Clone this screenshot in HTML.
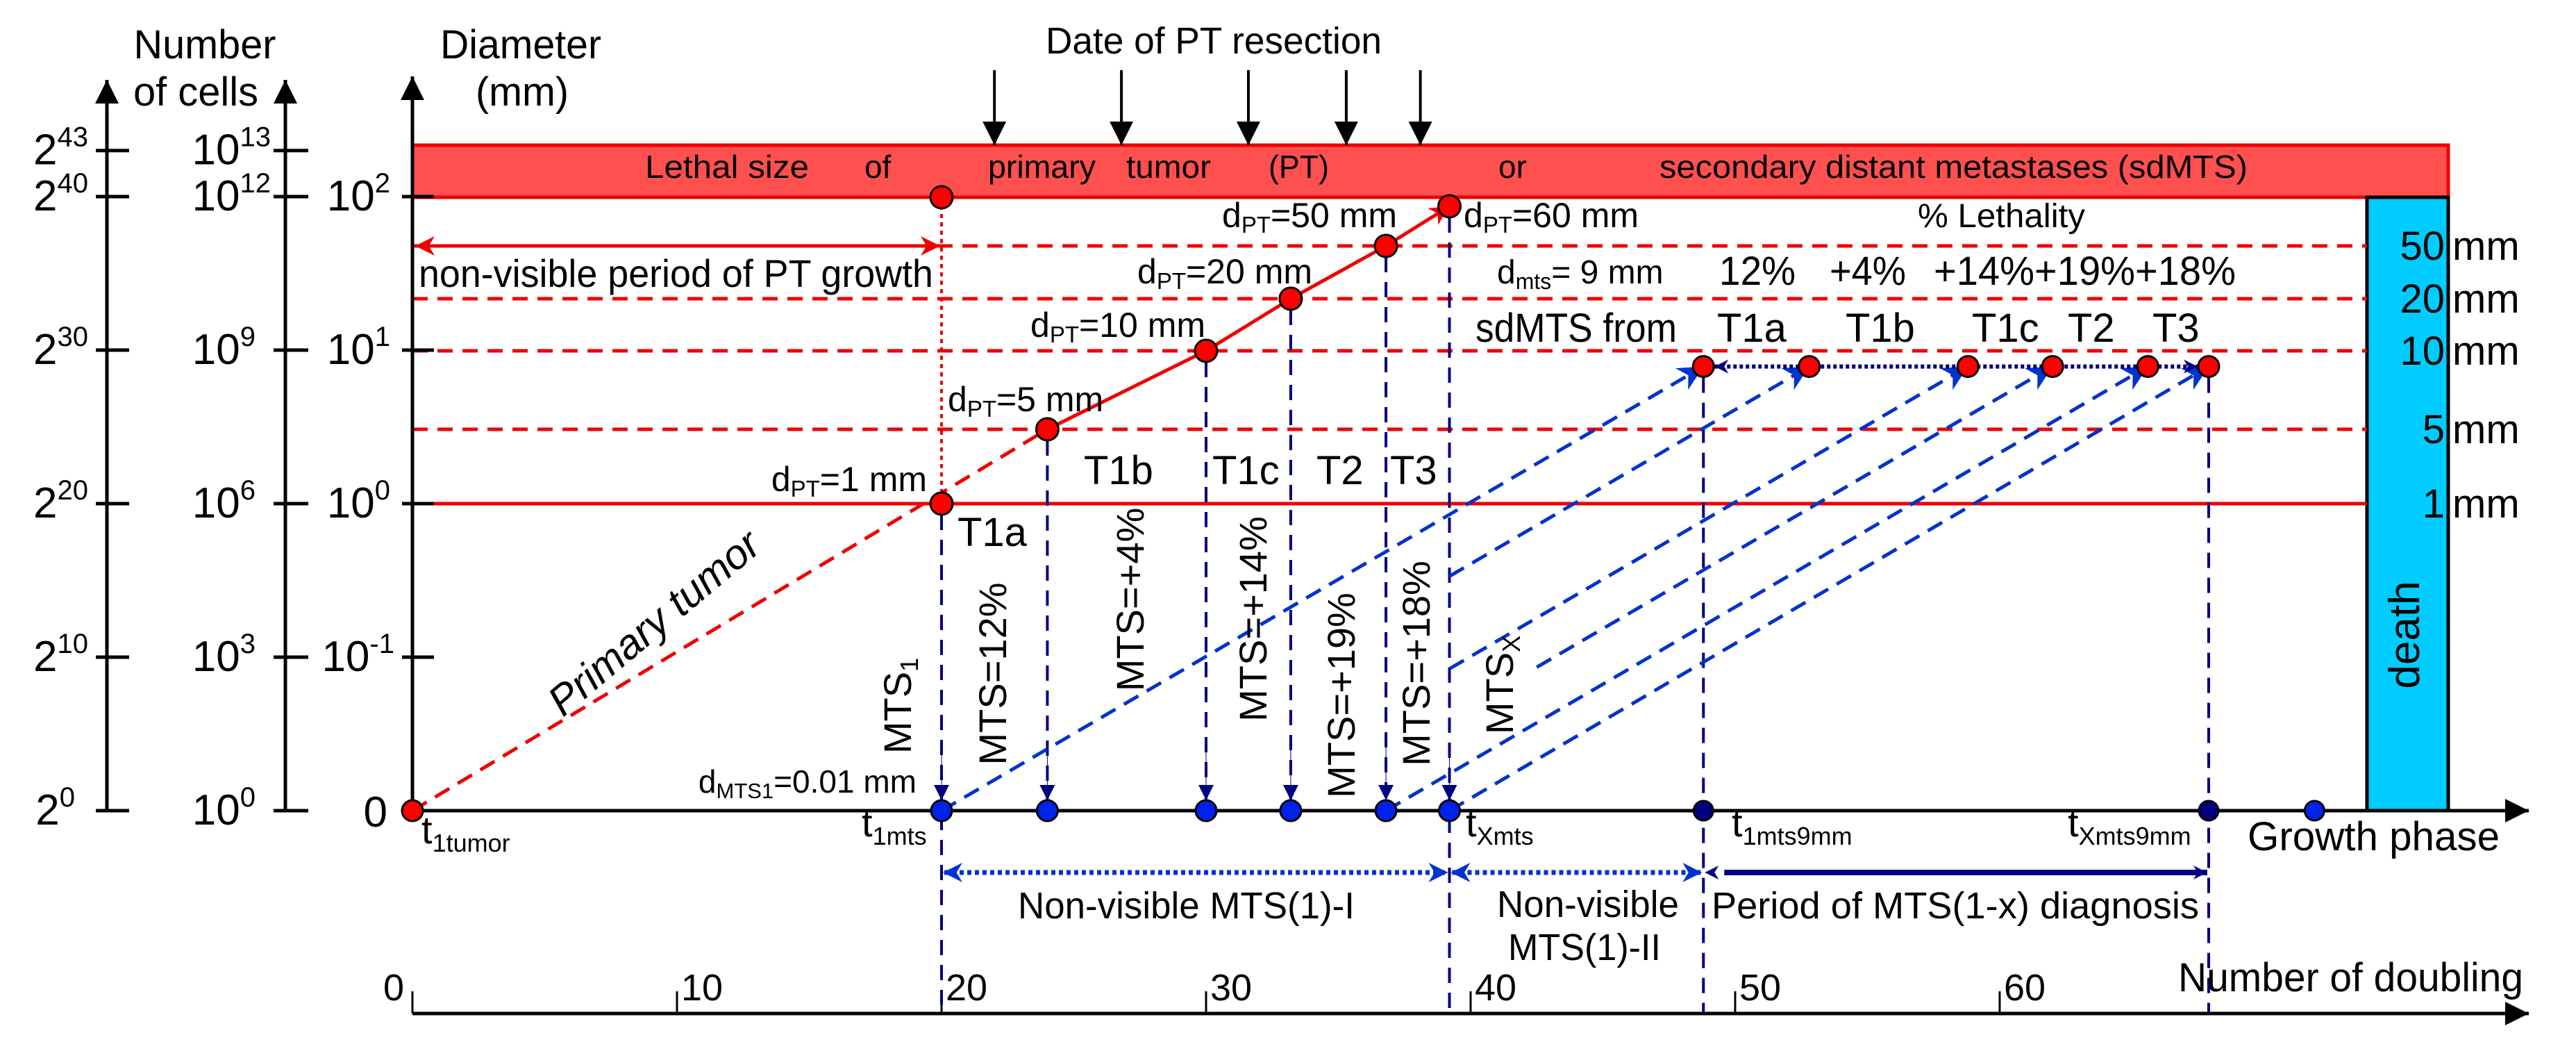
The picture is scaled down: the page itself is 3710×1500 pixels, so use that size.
<!DOCTYPE html>
<html><head><meta charset="utf-8"><style>
html,body{margin:0;padding:0;background:#fff;}
svg{display:block;font-family:"Liberation Sans",Arial,sans-serif;}
</style></head><body>
<svg id="chart" width="3710" height="1500" viewBox="0 0 3710 1500" xmlns="http://www.w3.org/2000/svg">
<defs>
<marker id="ablack" viewBox="0 0 10 10" refX="10" refY="5" markerWidth="20" markerHeight="26" markerUnits="userSpaceOnUse" orient="auto"><path d="M0,0 L10,5 L0,10 z" fill="#000"/></marker>
<marker id="anavy" viewBox="0 0 10 10" refX="10" refY="5" markerWidth="40" markerHeight="20" markerUnits="userSpaceOnUse" orient="auto"><path d="M0,0 L10,5 L0,10 L3,5 z" fill="#000080"/></marker>
<marker id="anavyv" viewBox="0 0 10 10" refX="10" refY="5" markerWidth="42" markerHeight="22" markerUnits="userSpaceOnUse" orient="auto"><path d="M0,0 L10,5 L0,10 z" fill="#000080"/></marker>
<marker id="ablue" viewBox="0 0 10 10" refX="10" refY="5" markerWidth="60" markerHeight="36" markerUnits="userSpaceOnUse" orient="auto"><path d="M0,0 L10,5 L0,10 L3,5 z" fill="#0033cc"/></marker>
<marker id="ablue2" viewBox="0 0 10 10" refX="10" refY="5" markerWidth="36" markerHeight="28" markerUnits="userSpaceOnUse" orient="auto"><path d="M0,0 L10,5 L0,10 L3,5 z" fill="#0033cc"/></marker>
<marker id="ared" viewBox="0 0 10 10" refX="10" refY="5" markerWidth="44" markerHeight="28" markerUnits="userSpaceOnUse" orient="auto"><path d="M0,0 L10,5 L0,10 L3,5 z" fill="#ee0000"/></marker>
<marker id="aredstart" viewBox="0 0 10 10" refX="0" refY="5" markerWidth="44" markerHeight="28" markerUnits="userSpaceOnUse" orient="auto"><path d="M10,0 L0,5 L10,10 L7,5 z" fill="#ee0000"/></marker>
<marker id="ablacklarge" viewBox="0 0 10 10" refX="10" refY="5" markerWidth="42" markerHeight="34" markerUnits="userSpaceOnUse" orient="auto"><path d="M0,0 L10,5 L0,10 z" fill="#000"/></marker>
</defs>

<text x="295" y="84" font-size="58" text-anchor="middle" textLength="205" lengthAdjust="spacingAndGlyphs">Number</text>
<text x="282" y="152" font-size="58" text-anchor="middle" textLength="180" lengthAdjust="spacingAndGlyphs">of cells</text>
<text x="634" y="84" font-size="58" textLength="232" lengthAdjust="spacingAndGlyphs">Diameter</text>
<text x="752" y="152" font-size="58" text-anchor="middle" textLength="134" lengthAdjust="spacingAndGlyphs">(mm)</text>
<text x="1506" y="77" font-size="54" textLength="484" lengthAdjust="spacingAndGlyphs">Date of PT resection</text>

<rect x="594" y="209" width="2932" height="75" fill="#ff5050" stroke="#ee0000" stroke-width="5"/>
<rect x="3409" y="284" width="117" height="883" fill="#00ccff" stroke="#000" stroke-width="5"/>
<text transform="translate(3484,914) rotate(-90)" font-size="62" text-anchor="middle">death</text>

<g font-size="46">
<text x="929" y="256" textLength="236" lengthAdjust="spacingAndGlyphs">Lethal size</text>
<text x="1245" y="256">of</text>
<text x="1423" y="256" textLength="155" lengthAdjust="spacingAndGlyphs">primary</text>
<text x="1622" y="256" textLength="122" lengthAdjust="spacingAndGlyphs">tumor</text>
<text x="1827" y="256" textLength="87" lengthAdjust="spacingAndGlyphs">(PT)</text>
<text x="2158" y="256">or</text>
<text x="2390" y="256" textLength="847" lengthAdjust="spacingAndGlyphs">secondary distant metastases (sdMTS)</text>
</g>

<g id="gridlines"></g>
<g id="axes"></g>
<g id="marks"></g>

<text x="603" y="413" font-size="56" textLength="741" lengthAdjust="spacingAndGlyphs">non-visible period of PT growth</text>
<text x="2762" y="327" font-size="48" textLength="241" lengthAdjust="spacingAndGlyphs">% Lethality</text>
<text x="2156" y="408" font-size="48">d<tspan font-size="32" dy="8">mts</tspan><tspan dy="-8">= 9 mm</tspan></text>
<g font-size="58">
<text x="2476" y="410" textLength="110" lengthAdjust="spacingAndGlyphs">12%</text>
<text x="2635" y="410" textLength="110" lengthAdjust="spacingAndGlyphs">+4%</text>
<text x="2785" y="410" textLength="435" lengthAdjust="spacingAndGlyphs">+14%+19%+18%</text>
</g>
<text x="2125" y="492" font-size="58" textLength="290" lengthAdjust="spacingAndGlyphs">sdMTS from</text>
<g font-size="58">
<text x="2473" y="492">T1a</text><text x="2658" y="492">T1b</text><text x="2840" y="492">T1c</text><text x="2978" y="492">T2</text><text x="3100" y="492">T3</text>
</g>
<g font-size="58">
<text x="1379" y="786">T1a</text><text x="1561" y="697">T1b</text><text x="1746" y="697">T1c</text><text x="1896" y="697">T2</text><text x="2002" y="697">T3</text>
</g>
<text transform="translate(955,912) rotate(-40)" font-size="60" font-style="italic" text-anchor="middle">Primary tumor</text>
<text x="1320" y="1141" font-size="46" text-anchor="end">d<tspan font-size="31" dy="8">MTS1</tspan><tspan dy="-8">=0.01 mm</tspan></text>

<g font-size="56" text-anchor="middle">
<text transform="translate(1312,1016) rotate(-90)">MTS<tspan font-size="36" dy="10">1</tspan></text>
<text transform="translate(1449,970) rotate(-90)">MTS=12%</text>
<text transform="translate(1647,863) rotate(-90)">MTS=+4%</text>
<text transform="translate(1824,891) rotate(-90)">MTS=+14%</text>
<text transform="translate(1951,1001) rotate(-90)">MTS=+19%</text>
<text transform="translate(2059,955) rotate(-90)">MTS=+18%</text>
<text transform="translate(2179,986) rotate(-90)">MTS<tspan font-size="36" dy="10">X</tspan></text>
</g>

<g font-size="56">
<text x="607" y="1214">t<tspan font-size="36" dy="12">1tumor</tspan></text>
<text x="1241" y="1204">t<tspan font-size="36" dy="12">1mts</tspan></text>
<text x="2111" y="1204">t<tspan font-size="36" dy="12">Xmts</tspan></text>
<text x="2494" y="1204">t<tspan font-size="36" dy="12">1mts9mm</tspan></text>
<text x="2978" y="1204">t<tspan font-size="36" dy="12">Xmts9mm</tspan></text>
</g>
<text x="3237" y="1224" font-size="58" textLength="363" lengthAdjust="spacingAndGlyphs">Growth phase</text>
<text x="3137" y="1427" font-size="58" textLength="497" lengthAdjust="spacingAndGlyphs">Number of doubling</text>

<g font-size="54">
<text x="1466" y="1322" textLength="485" lengthAdjust="spacingAndGlyphs">Non-visible MTS(1)-I</text>
<text x="2156" y="1320" textLength="262" lengthAdjust="spacingAndGlyphs">Non-visible</text>
<text x="2172" y="1382" textLength="220" lengthAdjust="spacingAndGlyphs">MTS(1)-II</text>
<text x="2465" y="1322" textLength="702" lengthAdjust="spacingAndGlyphs">Period of MTS(1-x) diagnosis</text>
</g>
</svg>

<script>
// ---- data ----
var ptMm = [1, 5, 10, 20, 50, 60];
var ptDoubling = [20, 24, 30, 33.2, 36.8, 39.2];
var ptLabels = ["dPT=1 mm","dPT=5 mm","dPT=10 mm","dPT=20 mm","dPT=50 mm","dPT=60 mm"];
var mtsStartDoubling = [20, 24, 30, 33.2, 36.8, 39.2];
var mtsEndDoubling = [48.8, 52.8, 58.8, 62.0, 65.6, 67.9];
var mtsVisibleFrom = [20, 39.2, 39.2, 42.5, 36.8, 39.2];
var sdMtsMm = 9;
var mmLines = [50, 20, 10, 5];
var mmSideLabels = ["50","20","10","5","1"];
var mmSideValues = [50, 20, 10, 5, 1];
var doublingTicks = [0, 10, 20, 30, 40, 50, 60];
var resectionDoubling = [22, 26.8, 31.6, 35.3, 38.1];
var extraDotsDoubling = [48.8, 67.9, 71.9];
var cellsPow2 = ["43","40","30","20","10","0"];
var cellsPow10 = ["13","12","9","6","3","0"];
var cellsLevels = [43, 40, 30, 20, 10, 0];
var diamPow = ["2","1","0","-1"];
var diamLevels = [2, 1, 0, -1];

// ---- axis functions ----
function xD(d){ return 594 + 38.1*d; }
function yLevel(l){ return 1167 - 22.1*l; }
var mmAnchorV = [0.01, 1, 5, 10, 20, 50, 100];
var mmAnchorY = [1167, 725, 618, 505, 430, 354, 284];
function yMm(mm){
  for (var i=1;i<mmAnchorV.length;i++){
    if (mm<=mmAnchorV[i]){
      var a=mmAnchorV[i-1], b=mmAnchorV[i];
      var t=(mm-a)/(b-a);
      return mmAnchorY[i-1]+t*(mmAnchorY[i]-mmAnchorY[i-1]);
    }
  }
  return mmAnchorY[mmAnchorY.length-1] - (mm-100)*0.7;
}
function yDiamPow(p){ return 725 - 221*p; }

var NS="http://www.w3.org/2000/svg";
function mk(parent, tag, attrs, txt){
  var el=document.createElementNS(NS,tag);
  for (var k in attrs) el.setAttribute(k, attrs[k]);
  if (txt!==undefined) el.textContent=txt;
  parent.appendChild(el); return el;
}
function tsp(parent, txt, size, dy){
  var el=document.createElementNS(NS,'tspan');
  if (size) el.setAttribute('font-size', size);
  if (dy) el.setAttribute('dy', dy);
  el.textContent=txt; parent.appendChild(el); return el;
}
var G=document.getElementById('gridlines'), A=document.getElementById('axes'), M=document.getElementById('marks');
var e, i;

for (i=0;i<mmLines.length;i++){
  e=mk(G,'line',{x1:594,x2:3409,y1:yMm(mmLines[i]),y2:yMm(mmLines[i]),stroke:'#ee0000','stroke-width':5,'stroke-dasharray':'22 14'});
  
  
}
e=mk(G,'line',{x1:594,x2:3409,y1:yMm(1),y2:yMm(1),stroke:'#ee0000','stroke-width':5});


for (i=0;i<mmSideLabels.length;i++){
  var yy=yMm(mmSideValues[i])+20;
  e=mk(G,'text',{x:3521,y:yy,'font-size':58,'text-anchor':'end'},mmSideLabels[i]);
  
  
  e=mk(G,'text',{x:3532,y:yy,'font-size':58},'mm');
  
  
}

e=mk(A,'line',{x1:154,x2:154,y1:1167,y2:115,stroke:'#000','stroke-width':5,'marker-end':'url(#ablacklarge)'});


e=mk(A,'line',{x1:411,x2:411,y1:1167,y2:115,stroke:'#000','stroke-width':5,'marker-end':'url(#ablacklarge)'});


e=mk(A,'line',{x1:594,x2:594,y1:1167,y2:110,stroke:'#000','stroke-width':5,'marker-end':'url(#ablacklarge)'});


for (i=0;i<cellsLevels.length;i++){
  var y=yLevel(cellsLevels[i]);
  e=mk(A,'line',{x1:138,x2:186,y1:y,y2:y,stroke:'#000','stroke-width':5});
  
  
  e=mk(A,'line',{x1:394,x2:444,y1:y,y2:y,stroke:'#000','stroke-width':5});
  
  
  e=mk(A,'text',{x:cellsPow2[i].length>1?127:108,y:y+20,'font-size':62,'text-anchor':'end'});
  
  
  tsp(e,'2'); tsp(e,cellsPow2[i],40,-26);
  e=mk(A,'text',{x:cellsPow10[i].length>1?390:368,y:y+20,'font-size':62,'text-anchor':'end'});
  
  
  tsp(e,'10'); tsp(e,cellsPow10[i],40,-26);
}
for (i=0;i<diamLevels.length;i++){
  var y2=yDiamPow(diamLevels[i]);
  e=mk(A,'line',{x1:579,x2:625,y1:y2,y2:y2,stroke:'#000','stroke-width':5});
  
  
  e=mk(A,'text',{x:diamLevels[i]<0?568:562,y:y2+20,'font-size':62,'text-anchor':'end'});
  
  
  tsp(e,'10'); tsp(e,diamPow[i],40,-26);
}
e=mk(A,'text',{x:558,y:1190,'font-size':62,'text-anchor':'end'},'0');


e=mk(A,'line',{x1:594,x2:3642,y1:1167,y2:1167,stroke:'#000','stroke-width':5,'marker-end':'url(#ablacklarge)'});


e=mk(A,'line',{x1:594,x2:3642,y1:1459,y2:1459,stroke:'#000','stroke-width':5,'marker-end':'url(#ablacklarge)'});


for (i=0;i<doublingTicks.length;i++){
  var x=xD(doublingTicks[i]);
  e=mk(A,'line',{x1:x,x2:x,y1:1459,y2:1427,stroke:'#000','stroke-width':3});
  
  
  e=mk(A,'text',{x:doublingTicks[i]===0?x-42:x+6,y:1440,'font-size':54},String(doublingTicks[i]));
  
  
}

for (i=0;i<resectionDoubling.length;i++){
  var rx=xD(resectionDoubling[i]);
  e=mk(M,'line',{x1:rx,x2:rx,y1:101,y2:209,stroke:'#000','stroke-width':4,'marker-end':'url(#ablacklarge)'});
  
  
}

e=mk(M,'line',{x1:598,x2:xD(20)-2,y1:354,y2:354,stroke:'#ee0000','stroke-width':5,'marker-start':'url(#aredstart)','marker-end':'url(#ared)'});


e=mk(M,'line',{x1:xD(20),x2:xD(20),y1:284,y2:725,stroke:'#ee0000','stroke-width':4,'stroke-dasharray':'6 6'});



var vEnds=[1459,1167,1167,1167,1167,1459];
for (i=0;i<ptDoubling.length;i++){
  var vx=xD(ptDoubling[i]);
  e=mk(M,'line',{x1:vx,x2:vx,y1:(i===ptDoubling.length-1?297:yMm(ptMm[i]))+16,y2:vEnds[i],stroke:'#000080','stroke-width':4,'stroke-dasharray':'22 14'});
  
  
  e=mk(M,'line',{x1:vx,x2:vx,y1:1070,y2:1152,stroke:'#000080','stroke-width':1,'marker-end':'url(#anavyv)'});
  
  
}
for (i=0;i<extraDotsDoubling.length-1;i++){
  var ex=xD(extraDotsDoubling[i]);
  e=mk(M,'line',{x1:ex,x2:ex,y1:yMm(sdMtsMm)+16,y2:1459,stroke:'#000080','stroke-width':4,'stroke-dasharray':'22 14'});
  
  
}

e=mk(M,'line',{x1:xD(0),y1:1167,x2:xD(ptDoubling[1]),y2:yMm(ptMm[1]),stroke:'#ee0000','stroke-width':5,'stroke-dasharray':'24 14'});


var pts='';
for (i=1;i<ptDoubling.length;i++) pts+=xD(ptDoubling[i])+','+(i===ptDoubling.length-1?297:yMm(ptMm[i]))+' ';
e=mk(M,'polyline',{points:pts,fill:'none',stroke:'#ee0000','stroke-width':5,'marker-end':'url(#ared)'});



for (i=0;i<mtsStartDoubling.length;i++){
  var sx=xD(mtsStartDoubling[i]), ex2=xD(mtsEndDoubling[i]), sy=1167, ey=yMm(sdMtsMm);
  var t=(mtsVisibleFrom[i]-mtsStartDoubling[i])/(mtsEndDoubling[i]-mtsStartDoubling[i]);
  e=mk(M,'line',{x1:sx+t*(ex2-sx),y1:sy+t*(ey-sy),x2:ex2,y2:ey,stroke:'#0033cc','stroke-width':5,'stroke-dasharray':'24 14','marker-end':'url(#ablue)'});
  
  
}

e=mk(M,'line',{x1:xD(mtsEndDoubling[0])+16,x2:xD(mtsEndDoubling[mtsEndDoubling.length-1])-16,y1:yMm(sdMtsMm),y2:yMm(sdMtsMm),stroke:'#000080','stroke-width':6,'stroke-dasharray':'5 4','marker-end':'url(#anavy)'});


e=mk(M,'line',{x1:xD(mtsEndDoubling[0])+80,x2:xD(mtsEndDoubling[0])+16,y1:yMm(sdMtsMm),y2:yMm(sdMtsMm),stroke:'none','stroke-width':1,'marker-end':'url(#anavy)'});



var y3=1256;
e=mk(M,'line',{x1:xD(20)+4,x2:xD(39.2)-4,y1:y3,y2:y3,stroke:'#0033cc','stroke-width':7,'stroke-dasharray':'6 5'});


e=mk(M,'line',{x1:xD(39.2)+4,x2:xD(48.8)-4,y1:y3,y2:y3,stroke:'#0033cc','stroke-width':7,'stroke-dasharray':'6 5'});


var heads=[[xD(20)+50,xD(20)+2,'#ablue2'],[xD(39.2)-50,xD(39.2)-2,'#ablue2'],[xD(39.2)+50,xD(39.2)+2,'#ablue2'],[xD(48.8)-50,xD(48.8)-2,'#ablue2'],[xD(48.8)+50,xD(48.8)+2,'#anavy']];
for (i=0;i<heads.length;i++){
  e=mk(M,'line',{x1:heads[i][0],x2:heads[i][1],y1:y3,y2:y3,stroke:'none','stroke-width':1,'marker-end':'url('+heads[i][2]+')'});
  
  
}
e=mk(M,'line',{x1:xD(48.8)+30,x2:xD(67.9)-2,y1:y3,y2:y3,stroke:'#000080','stroke-width':8,'marker-end':'url(#anavy)'});



e=mk(M,'circle',{cx:xD(0),cy:1167,r:15,fill:'#ff0000',stroke:'#000','stroke-width':3});


e=mk(M,'circle',{cx:xD(20),cy:284,r:16,fill:'#ff0000',stroke:'#000','stroke-width':3});


for (i=0;i<ptDoubling.length;i++){
  e=mk(M,'circle',{cx:xD(ptDoubling[i]),cy:i===ptDoubling.length-1?297:yMm(ptMm[i]),r:16,fill:'#ff0000',stroke:'#000','stroke-width':3});
  
  
  e=mk(M,'circle',{cx:xD(mtsStartDoubling[i]),cy:1167,r:15,fill:'#0022ee',stroke:'#000','stroke-width':3});
  
  
  e=mk(M,'circle',{cx:xD(mtsEndDoubling[i]),cy:yMm(sdMtsMm),r:15,fill:'#ff0000',stroke:'#000','stroke-width':3});
  
  
}
for (i=0;i<extraDotsDoubling.length;i++){
  e=mk(M,'circle',{cx:xD(extraDotsDoubling[i]),cy:1167,r:14,fill:i<2?'#000080':'#0022ee',stroke:'#000','stroke-width':3});
  
  
}

var labPos=[[1335,707,'end'],[1365,592,'start'],[1484,485,'start'],[1638,408,'start'],[1760,327,'start'],[2108,327,'start']];
for (i=0;i<ptLabels.length;i++){
  e=mk(M,'text',{x:labPos[i][0],y:labPos[i][1],'font-size':50,'text-anchor':labPos[i][2]});
  
  
  tsp(e,'d'); tsp(e,'PT',33,8); tsp(e,ptLabels[i].slice(3),null,-8);
}
</script>
</body></html>
